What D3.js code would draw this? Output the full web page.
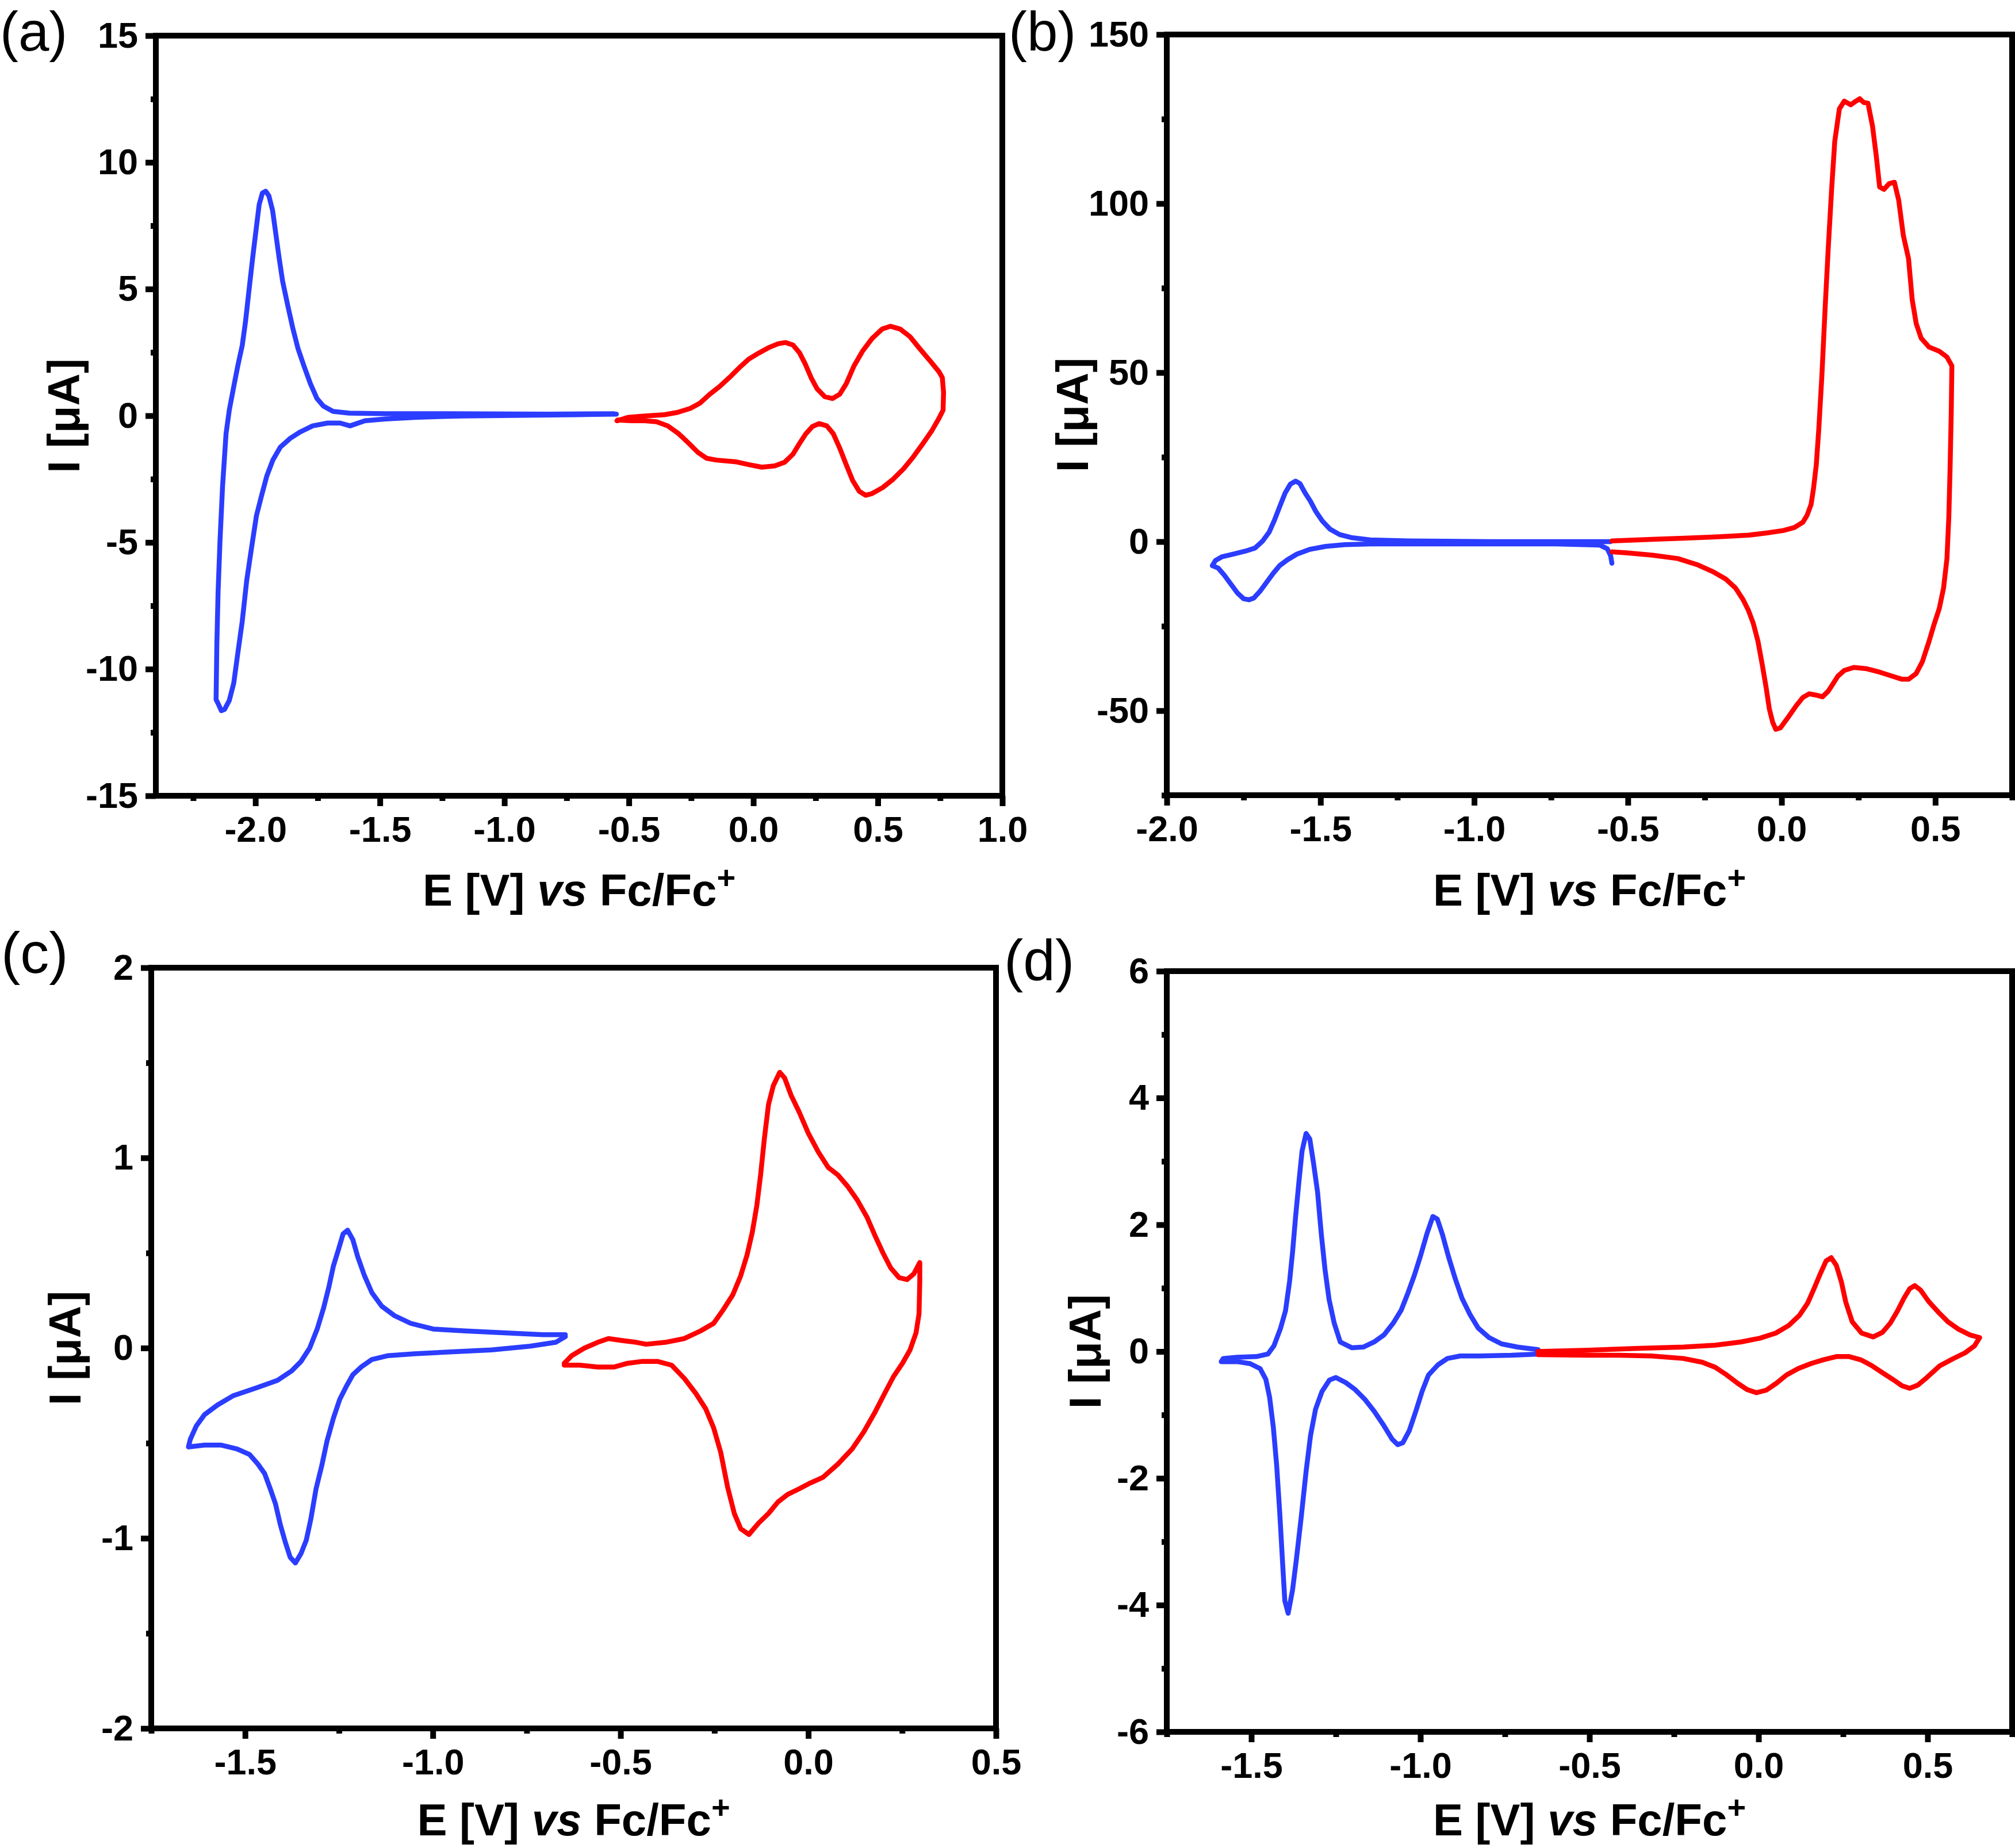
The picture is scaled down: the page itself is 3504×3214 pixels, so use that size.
<!DOCTYPE html>
<html><head><meta charset="utf-8">
<script src="https://cdn.jsdelivr.net/npm/d3@7"></script>
<style>html,body{margin:0;padding:0;background:#fff}</style>
</head><body>
<svg id="chart" width="3504" height="3214" xmlns="http://www.w3.org/2000/svg"></svg>
<script>
// ---------------- DATA (E [V] vs Fc/Fc+, I [µA]) ----------------
const aXTicks = [-2.0, -1.5, -1.0, -0.5, 0.0, 0.5, 1.0];
const aYTicks = [-15, -10, -5, 0, 5, 10, 15];
const bXTicks = [-2.0, -1.5, -1.0, -0.5, 0.0, 0.5];
const bYTicks = [-50, 0, 50, 100, 150];
const cXTicks = [-1.5, -1.0, -0.5, 0.0, 0.5];
const cYTicks = [-2, -1, 0, 1, 2];
const dXTicks = [-1.5, -1.0, -0.5, 0.0, 0.5];
const dYTicks = [-6, -4, -2, 0, 2, 4, 6];

const aBlue = [[-0.55,0.06],[-0.70,0.04],[-0.96,0.01],[-1.17,-0.01],[-1.35,-0.06],[-1.48,-0.13],[-1.56,-0.20],[-1.62,-0.40],[-1.66,-0.29],[-1.71,-0.29],[-1.77,-0.40],[-1.82,-0.64],[-1.86,-0.89],[-1.90,-1.24],[-1.93,-1.75],[-1.954,-2.37],[-1.975,-3.14],[-1.996,-3.95],[-2.014,-5.11],[-2.035,-6.5],[-2.053,-8.12],[-2.071,-9.39],[-2.087,-10.55],[-2.105,-11.24],[-2.124,-11.59],[-2.137,-11.64],[-2.150,-11.36],[-2.158,-11.2],[-2.155,-9.04],[-2.150,-6.96],[-2.142,-4.87],[-2.132,-2.79],[-2.118,-0.71],[-2.105,0.22],[-2.087,1.15],[-2.071,1.96],[-2.053,2.77],[-2.040,3.70],[-2.027,4.85],[-2.011,6.24],[-1.998,7.29],[-1.985,8.33],[-1.972,8.79],[-1.959,8.86],[-1.946,8.68],[-1.931,8.10],[-1.918,7.17],[-1.905,6.24],[-1.891,5.32],[-1.871,4.39],[-1.850,3.46],[-1.829,2.65],[-1.805,1.96],[-1.779,1.26],[-1.753,0.68],[-1.727,0.38],[-1.688,0.17],[-1.623,0.10],[-1.479,0.08],[-1.218,0.08],[-0.827,0.06],[-0.56,0.08]];
const aRed = [[-0.548,-0.20],[-0.501,-0.06],[-0.436,-0.01],[-0.357,0.04],[-0.305,0.13],[-0.253,0.29],[-0.214,0.50],[-0.175,0.85],[-0.136,1.15],[-0.097,1.50],[-0.057,1.89],[-0.018,2.24],[0.021,2.47],[0.060,2.68],[0.099,2.84],[0.130,2.89],[0.159,2.79],[0.185,2.49],[0.209,2.03],[0.232,1.50],[0.256,1.06],[0.287,0.75],[0.318,0.68],[0.347,0.85],[0.373,1.26],[0.404,1.96],[0.438,2.54],[0.477,3.05],[0.517,3.42],[0.550,3.53],[0.590,3.42],[0.629,3.12],[0.668,2.65],[0.712,2.14],[0.746,1.73],[0.759,1.50],[0.764,0.92],[0.762,0.22],[0.744,-0.13],[0.717,-0.59],[0.681,-1.10],[0.642,-1.63],[0.603,-2.10],[0.561,-2.51],[0.519,-2.84],[0.477,-3.07],[0.451,-3.14],[0.425,-2.98],[0.399,-2.56],[0.373,-1.93],[0.347,-1.28],[0.321,-0.71],[0.295,-0.40],[0.264,-0.31],[0.237,-0.43],[0.211,-0.71],[0.185,-1.10],[0.159,-1.52],[0.125,-1.84],[0.086,-1.98],[0.034,-2.03],[-0.018,-1.93],[-0.070,-1.82],[-0.149,-1.75],[-0.188,-1.68],[-0.222,-1.45],[-0.258,-1.10],[-0.300,-0.71],[-0.344,-0.40],[-0.389,-0.24],[-0.436,-0.20],[-0.488,-0.20],[-0.545,-0.17]];

const bBlue = [[-0.552,-6.4],[-0.556,-4.2],[-0.567,-2.1],[-0.592,-1.0],[-0.733,-0.7],[-0.942,-0.7],[-1.150,-0.7],[-1.338,-0.7],[-1.421,-0.9],[-1.483,-1.4],[-1.535,-2.3],[-1.577,-3.7],[-1.608,-5.4],[-1.633,-7.1],[-1.654,-9.4],[-1.675,-12.0],[-1.696,-14.6],[-1.717,-16.7],[-1.733,-17.2],[-1.750,-16.9],[-1.771,-15.1],[-1.792,-12.5],[-1.813,-9.9],[-1.833,-7.8],[-1.852,-7.1],[-1.842,-5.6],[-1.821,-4.5],[-1.785,-3.7],[-1.744,-2.8],[-1.713,-1.9],[-1.688,0.2],[-1.667,2.8],[-1.650,6.3],[-1.633,10.3],[-1.615,14.4],[-1.598,17.0],[-1.581,17.9],[-1.567,17.2],[-1.550,14.4],[-1.533,12.0],[-1.515,8.9],[-1.494,6.1],[-1.469,3.7],[-1.438,2.1],[-1.400,1.2],[-1.338,0.5],[-1.213,0.2],[-0.942,0.0],[-0.556,0.0]];
const bRed = [[-0.552,0.2],[-0.421,0.7],[-0.317,1.0],[-0.213,1.4],[-0.108,1.9],[-0.046,2.6],[0.006,3.3],[0.042,4.2],[0.069,5.7],[0.083,7.8],[0.096,11.0],[0.104,15.8],[0.113,22.8],[0.121,33.2],[0.131,48.9],[0.142,69.7],[0.152,87.1],[0.163,104.5],[0.173,118.4],[0.188,128.0],[0.204,130.3],[0.225,129.2],[0.242,130.3],[0.254,131.0],[0.267,129.9],[0.281,129.7],[0.296,122.8],[0.308,114.1],[0.319,104.9],[0.333,104.2],[0.350,105.9],[0.367,106.3],[0.381,101.0],[0.396,90.6],[0.413,83.7],[0.425,71.5],[0.438,64.5],[0.454,60.2],[0.479,57.6],[0.513,56.3],[0.538,54.6],[0.554,52.0],[0.552,38.4],[0.548,21.0],[0.544,7.1],[0.538,-5.0],[0.527,-13.7],[0.513,-19.8],[0.496,-24.5],[0.479,-29.7],[0.458,-35.5],[0.438,-39.0],[0.413,-40.7],[0.392,-40.7],[0.360,-39.8],[0.319,-38.6],[0.277,-37.6],[0.235,-37.2],[0.204,-38.1],[0.183,-39.8],[0.167,-42.1],[0.152,-44.2],[0.133,-45.9],[0.113,-45.4],[0.090,-45.0],[0.069,-46.1],[0.048,-48.5],[0.021,-52.0],[-0.004,-55.1],[-0.019,-55.5],[-0.029,-53.4],[-0.040,-49.4],[-0.050,-43.3],[-0.063,-36.3],[-0.077,-29.4],[-0.092,-24.2],[-0.108,-20.3],[-0.125,-17.2],[-0.150,-13.7],[-0.181,-11.1],[-0.223,-8.9],[-0.275,-6.8],[-0.338,-5.0],[-0.421,-4.0],[-0.504,-3.3],[-0.552,-3.0]];

const cBlue = [[-0.647,0.06],[-0.673,0.03],[-0.741,0.01],[-0.844,-0.01],[-0.947,-0.02],[-1.050,-0.03],[-1.119,-0.04],[-1.162,-0.06],[-1.191,-0.10],[-1.213,-0.14],[-1.230,-0.20],[-1.248,-0.27],[-1.265,-0.37],[-1.282,-0.49],[-1.296,-0.62],[-1.311,-0.74],[-1.325,-0.90],[-1.337,-1.01],[-1.351,-1.08],[-1.366,-1.13],[-1.380,-1.10],[-1.393,-1.02],[-1.406,-0.93],[-1.419,-0.82],[-1.433,-0.74],[-1.448,-0.66],[-1.466,-0.61],[-1.488,-0.56],[-1.522,-0.53],[-1.565,-0.51],[-1.608,-0.51],[-1.651,-0.52],[-1.646,-0.48],[-1.630,-0.41],[-1.608,-0.35],[-1.574,-0.30],[-1.531,-0.25],[-1.471,-0.21],[-1.414,-0.17],[-1.376,-0.12],[-1.351,-0.07],[-1.328,0.00],[-1.308,0.10],[-1.291,0.21],[-1.277,0.32],[-1.265,0.43],[-1.251,0.52],[-1.239,0.60],[-1.227,0.62],[-1.213,0.57],[-1.200,0.48],[-1.182,0.38],[-1.162,0.29],[-1.136,0.22],[-1.102,0.17],[-1.059,0.13],[-0.999,0.10],[-0.913,0.09],[-0.810,0.08],[-0.707,0.07],[-0.647,0.07]];
const cRed = [[-0.650,-0.08],[-0.630,-0.04],[-0.596,0.00],[-0.561,0.03],[-0.532,0.05],[-0.498,0.04],[-0.458,0.03],[-0.432,0.02],[-0.381,0.03],[-0.330,0.05],[-0.287,0.09],[-0.252,0.13],[-0.227,0.20],[-0.201,0.28],[-0.180,0.38],[-0.163,0.49],[-0.149,0.61],[-0.137,0.75],[-0.127,0.91],[-0.117,1.10],[-0.106,1.28],[-0.093,1.38],[-0.076,1.45],[-0.063,1.42],[-0.046,1.33],[-0.024,1.24],[0.000,1.13],[0.027,1.03],[0.053,0.95],[0.079,0.91],[0.105,0.85],[0.130,0.78],[0.156,0.69],[0.178,0.59],[0.199,0.50],[0.220,0.42],[0.242,0.37],[0.263,0.36],[0.281,0.39],[0.297,0.45],[0.297,0.35],[0.295,0.18],[0.287,0.08],[0.271,-0.01],[0.251,-0.08],[0.227,-0.15],[0.203,-0.24],[0.177,-0.34],[0.148,-0.44],[0.117,-0.53],[0.079,-0.61],[0.039,-0.68],[0.005,-0.71],[-0.024,-0.74],[-0.055,-0.77],[-0.081,-0.81],[-0.106,-0.87],[-0.132,-0.92],[-0.158,-0.98],[-0.180,-0.95],[-0.197,-0.87],[-0.215,-0.73],[-0.233,-0.55],[-0.252,-0.42],[-0.273,-0.32],[-0.299,-0.24],[-0.330,-0.16],[-0.364,-0.09],[-0.402,-0.07],[-0.441,-0.07],[-0.481,-0.08],[-0.518,-0.10],[-0.561,-0.10],[-0.608,-0.09],[-0.650,-0.09]];

const dBlue = [[-0.652,-0.04],[-0.731,-0.06],[-0.826,-0.07],[-0.882,-0.07],[-0.920,-0.11],[-0.948,-0.21],[-0.976,-0.37],[-0.995,-0.63],[-1.014,-0.95],[-1.033,-1.25],[-1.052,-1.44],[-1.067,-1.47],[-1.084,-1.38],[-1.108,-1.17],[-1.137,-0.94],[-1.165,-0.75],[-1.193,-0.60],[-1.221,-0.49],[-1.250,-0.41],[-1.269,-0.45],[-1.291,-0.63],[-1.310,-0.91],[-1.325,-1.33],[-1.338,-1.89],[-1.353,-2.64],[-1.367,-3.29],[-1.378,-3.76],[-1.391,-4.13],[-1.401,-3.93],[-1.408,-3.29],[-1.416,-2.54],[-1.425,-1.80],[-1.435,-1.19],[-1.446,-0.72],[-1.457,-0.44],[-1.474,-0.27],[-1.504,-0.19],[-1.542,-0.16],[-1.589,-0.16],[-1.583,-0.11],[-1.542,-0.09],[-1.485,-0.08],[-1.451,-0.04],[-1.433,0.09],[-1.414,0.36],[-1.399,0.64],[-1.387,1.10],[-1.378,1.57],[-1.369,2.13],[-1.359,2.69],[-1.350,3.16],[-1.338,3.44],[-1.327,3.35],[-1.316,2.97],[-1.304,2.51],[-1.293,1.85],[-1.282,1.29],[-1.270,0.82],[-1.255,0.45],[-1.237,0.15],[-1.203,0.06],[-1.169,0.07],[-1.137,0.15],[-1.108,0.26],[-1.080,0.45],[-1.057,0.65],[-1.037,0.92],[-1.018,1.20],[-0.999,1.52],[-0.980,1.87],[-0.963,2.13],[-0.950,2.09],[-0.935,1.85],[-0.916,1.48],[-0.897,1.15],[-0.877,0.84],[-0.854,0.59],[-0.829,0.37],[-0.797,0.22],[-0.760,0.12],[-0.713,0.07],[-0.652,0.03]];
const dRed = [[-0.652,0.00],[-0.505,0.02],[-0.354,0.05],[-0.222,0.07],[-0.128,0.10],[-0.053,0.15],[0.004,0.21],[0.051,0.29],[0.089,0.41],[0.121,0.57],[0.145,0.76],[0.164,0.99],[0.183,1.23],[0.200,1.43],[0.215,1.48],[0.230,1.36],[0.245,1.10],[0.258,0.78],[0.277,0.47],[0.305,0.29],[0.339,0.23],[0.366,0.30],[0.390,0.45],[0.411,0.64],[0.430,0.84],[0.447,0.99],[0.462,1.04],[0.479,0.97],[0.503,0.79],[0.532,0.62],[0.560,0.47],[0.592,0.35],[0.626,0.26],[0.654,0.22],[0.639,0.09],[0.611,-0.02],[0.573,-0.12],[0.535,-0.23],[0.498,-0.41],[0.471,-0.53],[0.447,-0.58],[0.424,-0.54],[0.400,-0.45],[0.371,-0.35],[0.334,-0.22],[0.302,-0.13],[0.268,-0.08],[0.230,-0.08],[0.192,-0.13],[0.155,-0.19],[0.117,-0.27],[0.083,-0.37],[0.053,-0.50],[0.023,-0.61],[-0.006,-0.65],[-0.034,-0.60],[-0.062,-0.50],[-0.094,-0.37],[-0.128,-0.25],[-0.166,-0.17],[-0.222,-0.11],[-0.317,-0.07],[-0.411,-0.06],[-0.505,-0.06],[-0.652,-0.05]];

// ---------------- LAYOUT ----------------
const FONT = '"Liberation Sans", Arial, Helvetica, sans-serif';
const BLUE = '#2b3dff', RED = '#ff0000';
const fmtX = v => (v < 0 ? '-' : '') + Math.abs(v).toFixed(1);
const fmtY = v => (v < 0 ? '-' : '') + Math.abs(v);

const panels = [
  {label:'(a)', lx:0, ly:88, lfs:96, xd:[-2.4,1.0], yd:[-15,15], box:[271,1743,62,1384], xt:aXTicks, yt:aYTicks, xm:0.25, ym:2.5, blue:aBlue, red:aRed, ytx:138, xty:1575},
  {label:'(b)', lx:1754, ly:88, lfs:96, xd:[-2.0,0.75], yd:[-75,150], box:[2029,3499,60,1383], xt:bXTicks, yt:bYTicks, xm:0.25, ym:25, blue:bBlue, red:bRed, ytx:1892, xty:1575},
  {label:'(c)', lx:2, ly:1692, lfs:100, xd:[-1.75,0.5], yd:[-2,2], box:[263,1732,1683,3006], xt:cXTicks, yt:cYTicks, xm:0.25, ym:0.5, blue:cBlue, red:cRed, ytx:140, xty:3192},
  {label:'(d)', lx:1746, ly:1705, lfs:100, xd:[-1.75,0.75], yd:[-6,6], box:[2029,3499,1689,3012], xt:dXTicks, yt:dYTicks, xm:0.25, ym:1, blue:dBlue, red:dRed, ytx:1914, xty:3192}
];

const svg = d3.select('#chart');
svg.append('rect').attr('width',3504).attr('height',3214).attr('fill','#fff');

function minors(dom, step, majors) {
  const out = [];
  const start = Math.ceil(dom[0]/step - 1e-9);
  for (let k = start; k*step <= dom[1] + 1e-9; k++) {
    const v = +(k*step).toFixed(6);
    if (!majors.some(m => Math.abs(m - v) < 1e-9)) out.push(v);
  }
  return out;
}

panels.forEach(p => {
  const [L,R,T,B] = p.box;
  const x = d3.scaleLinear().domain(p.xd).range([L,R]);
  const y = d3.scaleLinear().domain(p.yd).range([B,T]);
  const g = svg.append('g');

  const styleAxis = s => {
    s.select('.domain').remove();
    s.selectAll('.tick line').attr('stroke','#000').attr('stroke-width',10);
    s.selectAll('.tick text').attr('fill','#000').attr('font-family',FONT)
      .attr('font-size',63).attr('font-weight','bold');
  };

  // minor ticks
  g.append('g').attr('transform',`translate(0,${B})`)
    .call(d3.axisBottom(x).tickValues(minors(p.xd,p.xm,p.xt)).tickSize(9).tickFormat(''))
    .call(styleAxis);
  g.append('g').attr('transform',`translate(${L},0)`)
    .call(d3.axisLeft(y).tickValues(minors(p.yd,p.ym,p.yt)).tickSize(9).tickFormat(''))
    .call(styleAxis);
  // major ticks
  g.append('g').attr('transform',`translate(0,${B})`)
    .call(d3.axisBottom(x).tickValues(p.xt).tickSize(18).tickPadding(17).tickFormat(fmtX))
    .call(styleAxis);
  g.append('g').attr('transform',`translate(${L},0)`)
    .call(d3.axisLeft(y).tickValues(p.yt).tickSize(18).tickPadding(13).tickFormat(fmtY))
    .call(styleAxis);

  // frame
  g.append('rect').attr('x',L).attr('y',T).attr('width',R-L).attr('height',B-T)
    .attr('fill','none').attr('stroke','#000').attr('stroke-width',10);

  const line = d3.line().x(d => x(d[0])).y(d => y(d[1]));
  g.append('path').datum(p.blue).attr('d',line).attr('fill','none')
    .attr('stroke',BLUE).attr('stroke-width',8.5).attr('stroke-linejoin','round').attr('stroke-linecap','round');
  g.append('path').datum(p.red).attr('d',line).attr('fill','none')
    .attr('stroke',RED).attr('stroke-width',8.5).attr('stroke-linejoin','round').attr('stroke-linecap','round');

  // x title
  const xt = g.append('text').attr('x',(L+R)/2).attr('y',p.xty).attr('text-anchor','middle')
    .attr('font-family',FONT).attr('font-size',78).attr('font-weight','bold').attr('fill','#000');
  xt.append('tspan').text('E [V] ');
  xt.append('tspan').attr('font-style','italic').text('vs');
  xt.append('tspan').text(' Fc/Fc');
  xt.append('tspan').attr('font-size',56).attr('dy',-30).text('+');

  // y title
  g.append('text').attr('transform',`translate(${p.ytx},${(T+B)/2}) rotate(-90)`)
    .attr('text-anchor','middle').attr('font-family',FONT).attr('font-size',78)
    .attr('font-weight','bold').attr('fill','#000').text('I [μA]');

  // panel label
  g.append('text').attr('x',p.lx).attr('y',p.ly).attr('font-family',FONT)
    .attr('font-size',p.lfs).attr('fill','#000').text(p.label);
});
</script>
</body></html>
